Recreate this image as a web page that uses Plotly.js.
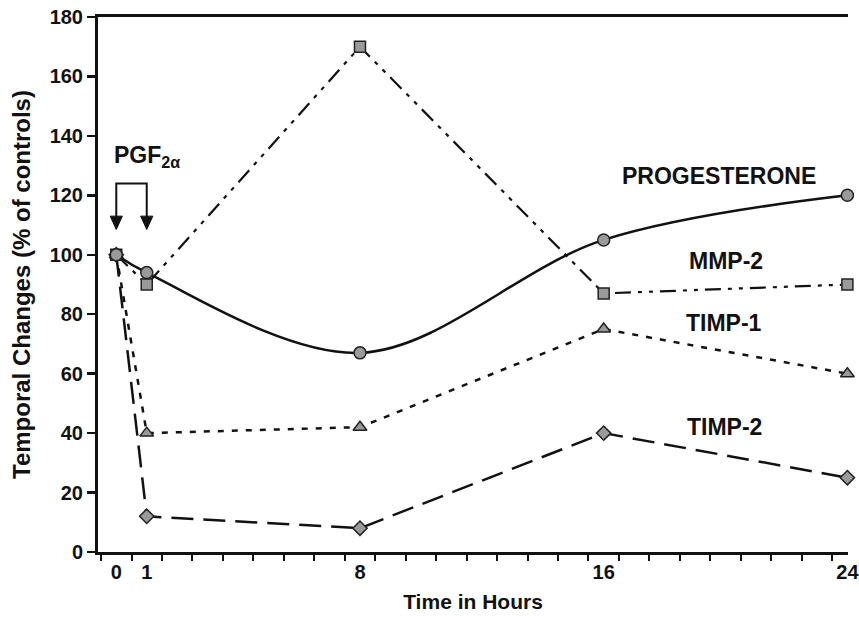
<!DOCTYPE html>
<html>
<head>
<meta charset="utf-8">
<script src="https://cdn.plot.ly/plotly-3.0.1.min.js"></script>
<style>html,body{margin:0;padding:0;background:#fff;}#chart{width:859px;height:620px;}</style>
</head>
<body>
<div id="chart"></div>
<script>
const hours = [0, 1, 8, 16, 24];
const progesterone = [100, 94, 67, 105, 120];
const mmp2 = [100, 90, 170, 87, 90];
const timp1 = [100, 40, 42, 75, 60];
const timp2 = [100, 12, 8, 40, 25];
const xTickLabels = ['0', '1', '8', '16', '24'];
const seriesNames = ['PROGESTERONE', 'MMP-2', 'TIMP-1', 'TIMP-2'];

const FONT = 'Liberation Sans, Arial, sans-serif';
const mk = (sym, size) => ({symbol: sym, size: size, color: '#9a9a9a', line: {color: '#222', width: 1.5}});

const traces = [
  {x: hours, y: timp2, name: seriesNames[3], mode: 'lines+markers', line: {color: '#111', width: 2.5, dash: '22px,10px'}, marker: mk('diamond', 11)},
  {x: hours, y: timp1, name: seriesNames[2], mode: 'lines+markers', line: {color: '#111', width: 2.5, dash: '6px,8px'}, marker: mk('triangle-up', 12)},
  {x: hours, y: mmp2, name: seriesNames[1], mode: 'lines+markers', line: {color: '#111', width: 2.2, dash: '16px,7px,4px,7px,4px,7px'}, marker: mk('square', 11)},
  {x: hours, y: progesterone, name: seriesNames[0], mode: 'lines+markers', line: {color: '#111', width: 2.5, shape: 'spline', smoothing: 1}, marker: mk('circle', 12)}
];
traces.forEach(t => { t.cliponaxis = false; t.showlegend = false; });

const labelFont = {family: FONT, size: 23, color: '#111', weight: 'bold'};
const tickFont = {family: FONT, size: 20, color: '#111', weight: 'bold'};
const layout = {
  width: 859, height: 620,
  margin: {l: 98, r: 11, t: 17, b: 68},
  paper_bgcolor: '#fff', plot_bgcolor: '#fff',
  font: {family: FONT, color: '#111'},
  xaxis: {
    range: [-0.6, 24.02], showgrid: false, zeroline: false,
    showline: true, linecolor: '#111', linewidth: 3, mirror: true,
    tickvals: hours, ticktext: xTickLabels, ticks: '',
    ticklabeloverflow: 'allow',
    tickfont: tickFont,
    minor: {tick0: 0.5, dtick: 1, ticks: 'outside', ticklen: 6, tickwidth: 2, tickcolor: '#111', showgrid: false},
    title: {text: 'Time in Hours', font: {family: FONT, size: 21, color: '#111', weight: 'bold'}, standoff: 13}
  },
  yaxis: {
    range: [0, 180], dtick: 20, showgrid: false, zeroline: false,
    showline: true, linecolor: '#111', linewidth: 3,
    ticks: 'outside', ticklen: 8, tickwidth: 2.5, tickcolor: '#111',
    tickfont: tickFont,
    title: {text: 'Temporal Changes (% of controls)', font: {family: FONT, size: 24, color: '#111', weight: 'bold'}, standoff: 13}
  },
  annotations: [
    {x: 19.8, y: 126.5, xref: 'x', yref: 'y', text: seriesNames[0], showarrow: false, font: labelFont},
    {x: 20.0, y: 98, xref: 'x', yref: 'y', text: seriesNames[1], showarrow: false, font: labelFont},
    {x: 19.95, y: 77, xref: 'x', yref: 'y', text: seriesNames[2], showarrow: false, font: labelFont},
    {x: 19.95, y: 42, xref: 'x', yref: 'y', text: seriesNames[3], showarrow: false, font: labelFont},
    {x: 1.0, y: 133, xref: 'x', yref: 'y', text: 'PGF<sub>2α</sub>', showarrow: false, font: labelFont}
  ],
  shapes: [
    {type: 'path', xref: 'x', yref: 'y', path: 'M 0,112 L 0,124 L 1,124 L 1,112', line: {color: '#111', width: 2}},
    {type: 'path', xref: 'x', yref: 'y', path: 'M -0.2,113 L 0.2,113 L 0,108.5 Z', fillcolor: '#111', line: {color: '#111', width: 1}},
    {type: 'path', xref: 'x', yref: 'y', path: 'M 0.8,113 L 1.2,113 L 1,108.5 Z', fillcolor: '#111', line: {color: '#111', width: 1}}
  ]
};

Plotly.newPlot('chart', traces, layout, {displayModeBar: false, staticPlot: true});
</script>
</body>
</html>
